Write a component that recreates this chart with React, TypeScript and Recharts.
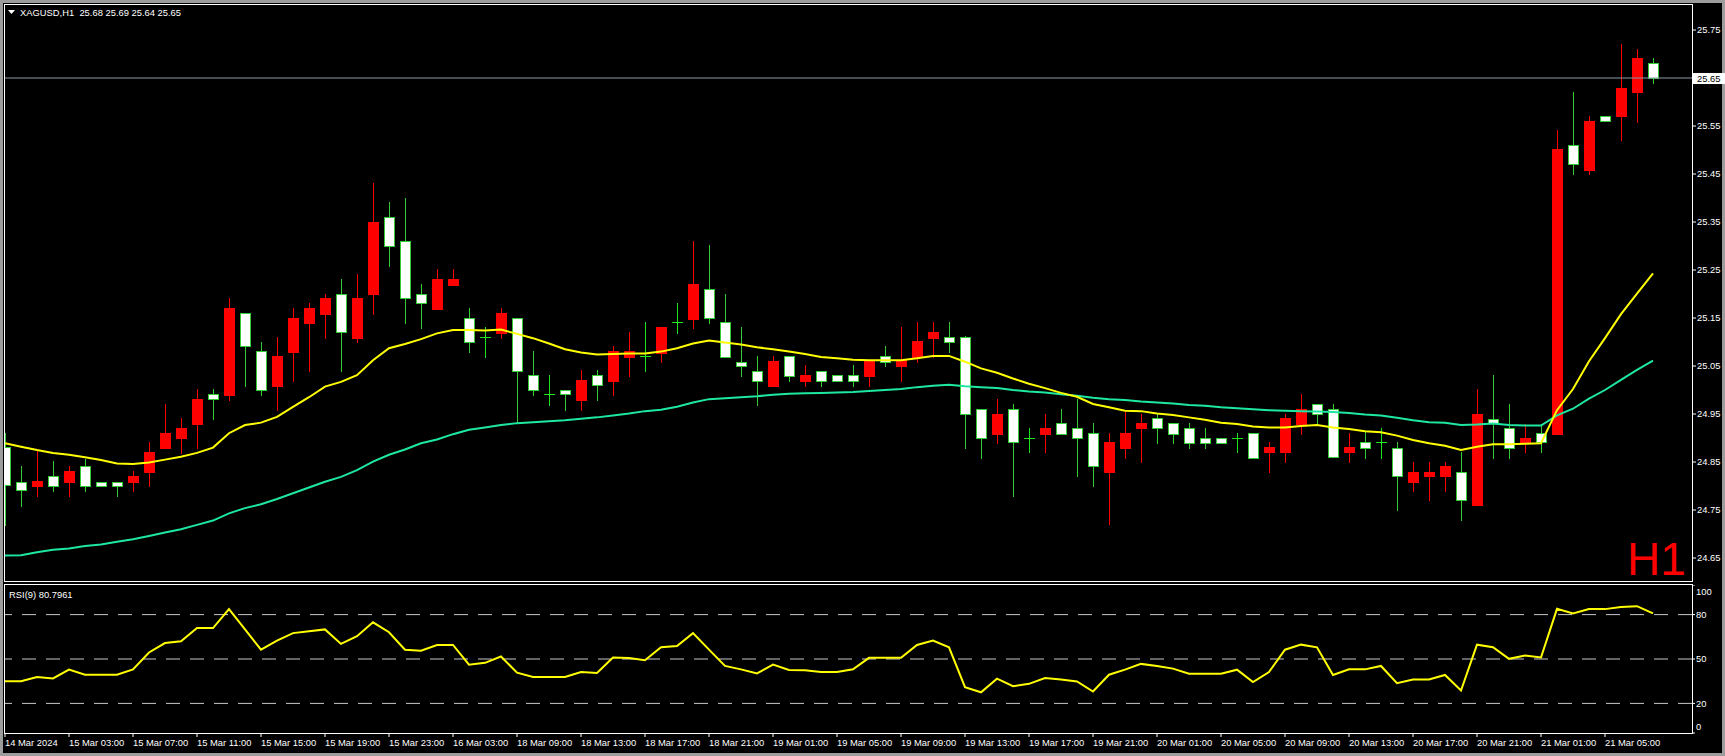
import React from "react";
import { ComposedChart, Bar, Line, XAxis, YAxis, ReferenceLine } from "recharts";

const FONT = '"Liberation Sans", Arial, sans-serif';

// hourly XAGUSD bars, 14 Mar 23:00 .. 21 Mar 08:00
const opens = [
  24.882, 24.809, 24.801, 24.82, 24.809, 24.841, 24.809, 24.809, 24.809, 24.83,
  24.88, 24.901, 24.93, 24.991, 24.99, 25.16, 25.081, 25.009, 25.08, 25.14,
  25.159, 25.201, 25.109, 25.201, 25.36, 25.31, 25.201, 25.169, 25.219, 25.149,
  25.11, 25.119, 25.149, 25.031, 24.991, 25.001, 24.979, 25.031, 25.019, 25.069,
  25.071, 25.078, 25.141, 25.148, 25.21, 25.141, 25.059, 25.04, 25.009, 25.071,
  25.019, 25.04, 25.031, 25.031, 25.03, 25.071, 25.051, 25.069, 25.109, 25.11,
  25.11, 24.96, 24.909, 24.96, 24.901, 24.909, 24.931, 24.92, 24.91, 24.83,
  24.88, 24.92, 24.941, 24.931, 24.92, 24.901, 24.901, 24.901, 24.91, 24.87,
  24.87, 24.93, 24.97, 24.96, 24.87, 24.891, 24.891, 24.88, 24.809, 24.82,
  24.82, 24.83, 24.76, 24.94, 24.92, 24.891, 24.911, 24.909, 25.51, 25.459,
  25.57, 25.57, 25.62, 25.681,
];
const highs = [
  24.91, 24.842, 24.872, 24.852, 24.842, 24.856, 24.809, 24.809, 24.831, 24.892,
  24.971, 24.942, 25.002, 25.002, 25.192, 25.16, 25.101, 25.111, 25.171, 25.181,
  25.201, 25.231, 25.241, 25.432, 25.392, 25.4, 25.221, 25.252, 25.252, 25.171,
  25.131, 25.171, 25.149, 25.081, 25.031, 25.001, 25.042, 25.042, 25.092, 25.121,
  25.142, 25.131, 25.181, 25.31, 25.302, 25.201, 25.131, 25.071, 25.071, 25.071,
  25.052, 25.04, 25.031, 25.052, 25.06, 25.092, 25.131, 25.142, 25.142, 25.142,
  25.112, 24.96, 24.981, 24.971, 24.92, 24.951, 24.96, 24.981, 24.931, 24.91,
  24.956, 24.951, 24.951, 24.931, 24.931, 24.92, 24.901, 24.91, 24.91, 24.891,
  24.951, 24.992, 24.97, 24.971, 24.91, 24.912, 24.92, 24.891, 24.851, 24.851,
  24.851, 24.871, 25.002, 25.031, 24.97, 24.93, 24.93, 25.542, 25.621, 25.571,
  25.57, 25.721, 25.711, 25.691,
];
const lows = [
  24.719, 24.759, 24.78, 24.79, 24.78, 24.79, 24.801, 24.78, 24.79, 24.801,
  24.88, 24.869, 24.88, 24.94, 24.979, 25.009, 24.99, 24.958, 25.019, 25.04,
  25.109, 25.04, 25.1, 25.159, 25.259, 25.14, 25.13, 25.169, 25.219, 25.08,
  25.069, 25.109, 24.932, 24.99, 24.969, 24.958, 24.958, 24.979, 24.99, 25.03,
  25.04, 25.059, 25.119, 25.13, 25.14, 25.069, 25.03, 24.969, 25.009, 25.019,
  25.009, 25.009, 25.019, 25.009, 25.009, 25.051, 25.019, 25.059, 25.069, 25.08,
  24.88, 24.859, 24.89, 24.78, 24.87, 24.87, 24.909, 24.82, 24.801, 24.72,
  24.859, 24.851, 24.89, 24.89, 24.88, 24.88, 24.89, 24.87, 24.859, 24.83,
  24.851, 24.909, 24.93, 24.86, 24.851, 24.859, 24.859, 24.75, 24.79, 24.77,
  24.79, 24.73, 24.76, 24.859, 24.859, 24.871, 24.87, 24.909, 25.449, 25.449,
  25.56, 25.52, 25.558, 25.639,
];
const closes = [
  24.802, 24.792, 24.81, 24.801, 24.831, 24.801, 24.801, 24.801, 24.821, 24.871,
  24.91, 24.921, 24.981, 24.981, 25.171, 25.092, 25.001, 25.071, 25.15, 25.171,
  25.192, 25.12, 25.192, 25.351, 25.301, 25.191, 25.181, 25.231, 25.231, 25.101,
  25.11, 25.16, 25.04, 25.001, 24.991, 24.991, 25.021, 25.01, 25.081, 25.081,
  25.071, 25.131, 25.141, 25.221, 25.149, 25.069, 25.051, 25.019, 25.06, 25.03,
  25.031, 25.019, 25.019, 25.019, 25.06, 25.059, 25.062, 25.102, 25.121, 25.101,
  24.951, 24.901, 24.951, 24.891, 24.901, 24.92, 24.909, 24.901, 24.841, 24.892,
  24.91, 24.931, 24.92, 24.909, 24.89, 24.89, 24.89, 24.901, 24.859, 24.881,
  24.942, 24.96, 24.951, 24.86, 24.881, 24.88, 24.891, 24.82, 24.83, 24.83,
  24.841, 24.771, 24.951, 24.931, 24.88, 24.901, 24.891, 25.502, 25.47, 25.56,
  25.56, 25.63, 25.692, 25.649,
];

// moving averages as drawn (yellow fast, green slow)
const maFast = [
  24.889, 24.882, 24.875, 24.869, 24.865, 24.86, 24.854, 24.847, 24.846, 24.849,
  24.855, 24.861, 24.869, 24.88, 24.91, 24.927, 24.932, 24.944, 24.965, 24.985,
  25.007, 25.017, 25.031, 25.062, 25.087, 25.096, 25.106, 25.118, 25.125, 25.125,
  25.124, 25.126, 25.117, 25.108, 25.097, 25.085, 25.078, 25.074, 25.075, 25.076,
  25.076, 25.08, 25.087, 25.097, 25.103, 25.099, 25.095, 25.089, 25.085, 25.08,
  25.075, 25.069, 25.066, 25.063, 25.062, 25.062, 25.062, 25.066, 25.071, 25.071,
  25.059, 25.045, 25.036, 25.024, 25.013, 25.004, 24.994, 24.986, 24.971, 24.964,
  24.957, 24.956, 24.951, 24.948, 24.943, 24.938, 24.932, 24.929, 24.924, 24.922,
  24.922, 24.925, 24.927, 24.922, 24.919, 24.914, 24.912, 24.905, 24.896, 24.889,
  24.884, 24.875, 24.882, 24.887, 24.887, 24.888, 24.889, 24.958, 25.002, 25.06,
  25.108, 25.158, 25.201, 25.243,
];
const maSlow = [
  24.655, 24.656, 24.662, 24.667, 24.67, 24.675, 24.678, 24.684, 24.689, 24.696,
  24.703, 24.71, 24.719, 24.728, 24.743, 24.754, 24.762, 24.773, 24.785, 24.797,
  24.809, 24.819, 24.833, 24.851, 24.865, 24.876, 24.889, 24.897, 24.908, 24.917,
  24.922, 24.927, 24.931, 24.933, 24.935, 24.937, 24.94, 24.943, 24.947, 24.951,
  24.956, 24.959, 24.965, 24.974, 24.981, 24.983, 24.985, 24.987, 24.99, 24.992,
  24.993, 24.994, 24.995, 24.996, 24.998, 25.0, 25.002, 25.006, 25.009, 25.011,
  25.008, 25.006, 25.004, 25.0, 24.997, 24.995, 24.991, 24.988, 24.984, 24.981,
  24.979, 24.976, 24.974, 24.972, 24.969, 24.967, 24.964, 24.962, 24.96, 24.958,
  24.957, 24.956, 24.955, 24.954, 24.952, 24.949, 24.947, 24.942, 24.937, 24.933,
  24.932, 24.927, 24.928, 24.93, 24.927, 24.926, 24.926, 24.947, 24.961, 24.982,
  25.0, 25.021, 25.042, 25.061,
];
const rsiValues = [
  35.0, 35.0, 37.8, 36.9, 42.8, 39.4, 39.4, 39.4, 43.0, 54.4,
  60.8, 62.0, 70.9, 70.9, 83.7, 70.0, 56.3, 62.4, 67.5, 68.8,
  70.0, 60.2, 65.4, 74.8, 68.1, 56.3, 55.6, 59.5, 59.5, 46.2,
  47.4, 51.7, 40.8, 37.8, 37.8, 37.8, 41.2, 40.5, 51.0, 50.6,
  49.2, 57.9, 58.8, 67.5, 56.3, 45.3, 43.0, 40.3, 46.2, 42.6,
  42.4, 41.2, 41.2, 43.0, 50.8, 50.8, 50.8, 59.5, 62.4, 57.9,
  31.0, 27.5, 36.7, 31.6, 33.2, 37.1, 36.2, 34.8, 28.0, 39.4,
  42.8, 46.7, 45.3, 43.5, 40.1, 40.1, 40.1, 42.8, 34.4, 41.2,
  56.3, 59.7, 57.9, 39.2, 43.0, 43.0, 45.3, 33.7, 36.2, 36.2,
  39.2, 28.7, 59.7, 57.9, 50.1, 52.4, 51.0, 83.9, 80.7, 83.7,
  83.7, 85.2, 85.7, 80.8,
];

const timeLabels = [
  "14 Mar 2024", "15 Mar 03:00", "15 Mar 07:00", "15 Mar 11:00", "15 Mar 15:00",
  "15 Mar 19:00", "15 Mar 23:00", "16 Mar 03:00", "18 Mar 09:00", "18 Mar 13:00",
  "18 Mar 17:00", "18 Mar 21:00", "19 Mar 01:00", "19 Mar 05:00", "19 Mar 09:00",
  "19 Mar 13:00", "19 Mar 17:00", "19 Mar 21:00", "20 Mar 01:00", "20 Mar 05:00",
  "20 Mar 09:00", "20 Mar 13:00", "20 Mar 17:00", "20 Mar 21:00", "21 Mar 01:00",
  "21 Mar 05:00",
];
const priceTicks = [24.65, 24.75, 24.85, 24.95, 25.05, 25.15, 25.25, 25.35, 25.45, 25.55, 25.75];
const rsiTicks = [0, 20, 50, 80, 100];
const rsiLevels = [20, 50, 80];
const lastPrice = 25.65;

const data = opens.map((o, i) => ({
  i,
  open: o,
  high: highs[i],
  low: lows[i],
  close: closes[i],
  maFast: maFast[i],
  maSlow: maSlow[i],
  rsi: rsiValues[i],
}));
const timeTicks = timeLabels.map((_, k) => k * 4);

const X_DOMAIN: [number, number] = [-0.0625, 105.4375];
const GREEN = "#32cd32";

const Candle = (props: any) => {
  const { x, y, width, height, payload } = props;
  const { open, close, high, low } = payload;
  const top = Math.min(y, y + height);
  const k = Math.abs(height) / (high - low);
  const py = (v: number) => Math.round(top + (high - v) * k);
  const cx = Math.round(x + width / 2);
  const yH = py(high);
  const yL = py(low);
  if (Math.abs(close - open) < 0.002) {
    const yo = py(open) + 0.5;
    return (
      <g>
        <line x1={cx + 0.5} x2={cx + 0.5} y1={yH} y2={yL + 1} stroke="#19e619" />
        <line x1={cx - 5} x2={cx + 6} y1={yo} y2={yo} stroke="#19e619" />
      </g>
    );
  }
  const yT = py(Math.max(open, close));
  const yB = Math.max(py(Math.min(open, close)), yT + 2);
  if (close > open) {
    return (
      <g>
        <line x1={cx + 0.5} x2={cx + 0.5} y1={yH} y2={yL + 1} stroke="#ff0000" />
        <rect x={cx - 5} y={yT} width={11} height={yB - yT + 1} fill="#ff0000" />
      </g>
    );
  }
  return (
    <g>
      <line x1={cx + 0.5} x2={cx + 0.5} y1={yH} y2={yL + 1} stroke={GREEN} />
      <rect x={cx - 4.5} y={yT + 0.5} width={10} height={yB - yT} fill="#ffffff" stroke={GREEN} />
    </g>
  );
};

const PriceTag = (props: any) => {
  const vb = props.viewBox || {};
  const x = vb.x + vb.width + 1;
  const y = vb.y;
  return (
    <g>
      <rect x={x} y={y - 5} width={32} height={11} fill="#ffffff" />
      <text x={x + 4} y={y + 3.5} fontSize={9.4} fontFamily={FONT} fill="#000">
        {lastPrice.toFixed(2)}
      </text>
    </g>
  );
};

const PriceTick = ({ x, y, payload }: any) => (
  <text x={x} y={y + 3.4} fontSize={9.4} fontFamily={FONT} fill="#ffffff" textAnchor="start">
    {Number(payload.value).toFixed(2)}
  </text>
);

const RsiTick = ({ x, y, payload }: any) => {
  const v = payload.value;
  const shift = v === 100 ? 7 : v === 0 ? -6 : 0;
  return (
    <text x={x} y={y + shift + 3.4} fontSize={9.4} fontFamily={FONT} fill="#ffffff" textAnchor="start">
      {v}
    </text>
  );
};

const TimeTick = ({ x, y, payload }: any) => (
  <text x={x} y={y + 9} fontSize={9.4} fontFamily={FONT} fill="#ffffff" textAnchor="start">
    {timeLabels[Math.round(payload.value / 4)]}
  </text>
);

export default function App() {
  return (
    <div style={{ position: "fixed", left: 0, top: 0, width: 1725, height: 756, background: "#9c9c9c", overflow: "hidden" }}>
      <div style={{ position: "absolute", left: 3, top: 3, right: 3, bottom: 3, background: "#000" }} />

      <div style={{ position: "absolute", left: 0, top: 0 }}>
        <ComposedChart width={1725} height={582} data={data} margin={{ top: 4, right: 0, bottom: 1, left: 4 }}>
          <XAxis type="number" dataKey="i" domain={X_DOMAIN} hide allowDataOverflow />
          <YAxis
            orientation="right"
            type="number"
            width={33}
            domain={[24.6021, 25.8042]}
            allowDataOverflow
            ticks={priceTicks}
            interval={0}
            tick={<PriceTick />}
            tickSize={4}
            tickMargin={1}
            tickLine={{ stroke: "#ffffff" }}
            axisLine={false}
          />
          <ReferenceLine y={lastPrice} stroke="#8c98a8" strokeWidth={1} label={<PriceTag />} />
          <Bar
            dataKey={(d: any) => [d.low, d.high]}
            barSize={11}
            shape={(p: any) => <Candle {...p} />}
            isAnimationActive={false}
          />
          <Line type="linear" dataKey="maSlow" stroke="#1ee8a0" strokeWidth={2} dot={false} isAnimationActive={false} />
          <Line type="linear" dataKey="maFast" stroke="#ffff00" strokeWidth={2} dot={false} isAnimationActive={false} />
        </ComposedChart>
      </div>

      <div style={{ position: "absolute", left: 0, top: 585 }}>
        <ComposedChart width={1725} height={171} data={data} margin={{ top: 0, right: 0, bottom: 0, left: 4 }}>
          <XAxis
            type="number"
            dataKey="i"
            domain={X_DOMAIN}
            allowDataOverflow
            ticks={timeTicks}
            interval={0}
            height={23}
            tick={<TimeTick />}
            tickSize={4}
            tickMargin={0}
            tickLine={{ stroke: "#ffffff" }}
            axisLine={false}
          />
          <YAxis
            orientation="right"
            type="number"
            width={33}
            domain={[0, 100]}
            ticks={rsiTicks}
            interval={0}
            tick={<RsiTick />}
            tickSize={3}
            tickMargin={1}
            tickLine={{ stroke: "#ffffff" }}
            axisLine={false}
          />
          {rsiLevels.map((lvl) => (
            <ReferenceLine key={lvl} y={lvl} stroke="#c8c8c8" strokeDasharray="14 10" />
          ))}
          <Line type="linear" dataKey="rsi" stroke="#ffff00" strokeWidth={2} dot={false} isAnimationActive={false} />
        </ComposedChart>
      </div>

      {/* panel frames */}
      <div style={{ position: "absolute", left: 4, top: 4, width: 1689, height: 578, border: "1px solid #fff", boxSizing: "border-box", pointerEvents: "none" }} />
      <div style={{ position: "absolute", left: 4, top: 584, width: 1689, height: 150, border: "1px solid #fff", boxSizing: "border-box", pointerEvents: "none" }} />

      <svg width={1725} height={756} style={{ position: "absolute", left: 0, top: 0, pointerEvents: "none" }}>
        <polygon points="8,10 15,10 11.5,14" fill="#ffffff" />
        <text x={20} y={16.3} fontSize={9.4} fontFamily={FONT} fill="#ffffff" style={{ whiteSpace: "pre" }}>
          {"XAGUSD,H1  25.68 25.69 25.64 25.65"}
        </text>
        <text x={9} y={597.5} fontSize={9.4} fontFamily={FONT} fill="#ffffff">
          RSI(9) 80.7961
        </text>
        <text x={1627} y={575} fontSize={46} fontFamily={FONT} fill="#ff0000">
          H1
        </text>
      </svg>
    </div>
  );
}
